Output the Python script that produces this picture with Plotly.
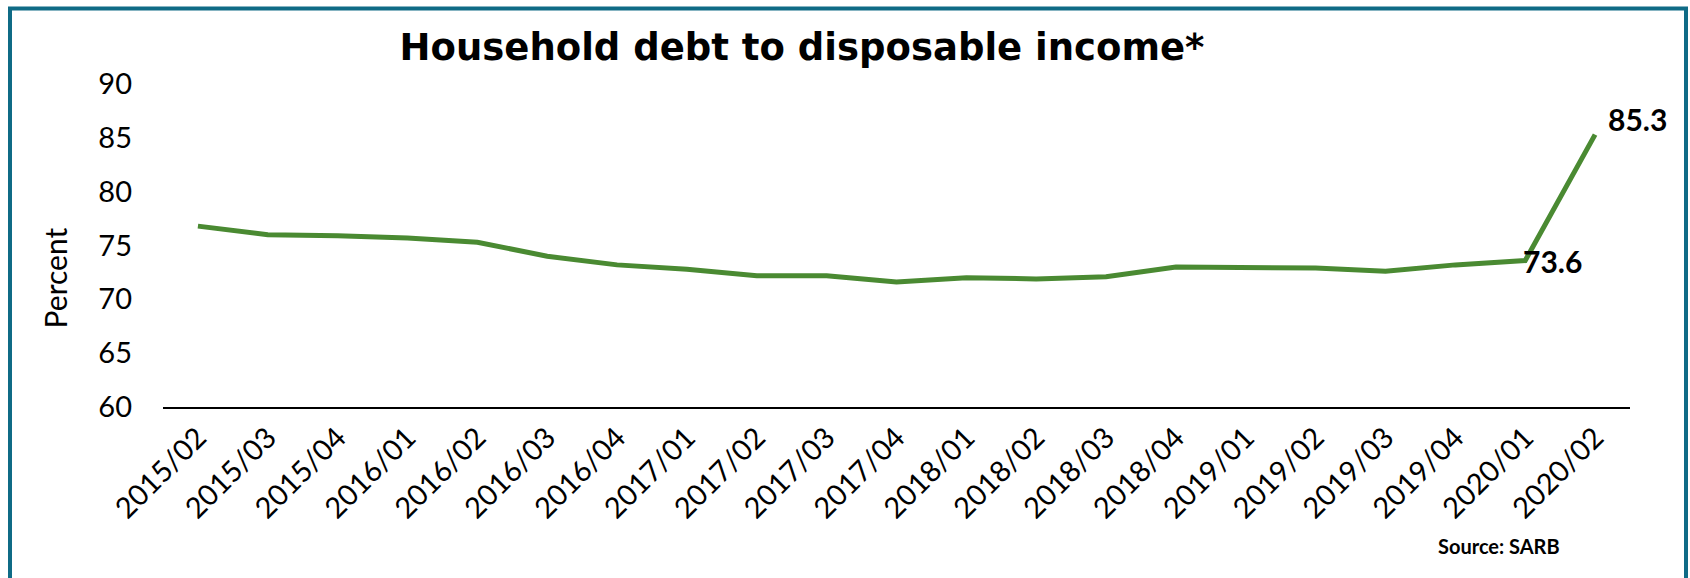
import plotly.graph_objects as go

# Quarterly series, household debt as % of disposable income
quarters = [
    "2015/02", "2015/03", "2015/04", "2016/01", "2016/02", "2016/03", "2016/04",
    "2017/01", "2017/02", "2017/03", "2017/04", "2018/01", "2018/02", "2018/03",
    "2018/04", "2019/01", "2019/02", "2019/03", "2019/04", "2020/01", "2020/02",
]
debt_ratio = [
    76.8, 76.0, 75.9, 75.7, 75.3, 74.0, 73.2,
    72.8, 72.2, 72.2, 71.6, 72.0, 71.9, 72.1,
    73.0, 73.0, 72.9, 72.6, 73.2, 73.6, 85.3,
]
y_ticks = [60, 65, 70, 75, 80, 85, 90]

W, H = 1690, 578
ML, MR, MT, MB = 163, 60, 83.5, 171.3
PW, PH = W - ML - MR, H - MT - MB


def px_x(x):
    return (x - ML) / PW


def px_y(y):
    return (H - MB - y) / PH


GREEN = "#4a8a32"
TEAL = "#0f6b86"
FONT = "Lato"

fig = go.Figure()
fig.add_trace(go.Scatter(
    x=quarters, y=debt_ratio, mode="lines",
    line=dict(color=GREEN, width=5),
    hoverinfo="x+y", showlegend=False,
))

annotations = [
    # value labels on the last two quarters
    dict(x=quarters[-2], y=debt_ratio[-2], xref="x", yref="y",
         text=f"<b>{debt_ratio[-2]:.1f}</b>", showarrow=False,
         xanchor="left", yanchor="middle", xshift=-4, yshift=0,
         font=dict(family=FONT, size=30, color="black")),
    dict(x=quarters[-1], y=debt_ratio[-1], xref="x", yref="y",
         text=f"<b>{debt_ratio[-1]:.1f}</b>", showarrow=False,
         xanchor="left", yanchor="middle", xshift=11, yshift=16,
         font=dict(family=FONT, size=30, color="black")),
    # rotated axis title
    dict(x=px_x(55), y=px_y(277), xref="paper", yref="paper",
         text="Percent", textangle=-90, showarrow=False,
         xanchor="center", yanchor="middle",
         font=dict(family=FONT, size=30, color="black")),
    # source note
    dict(x=px_x(1499), y=px_y(546), xref="paper", yref="paper",
         text="<b>Source: SARB</b>", showarrow=False,
         xanchor="center", yanchor="middle",
         font=dict(family=FONT, size=20, color="black")),
]

shapes = [
    dict(type="rect", xref="paper", yref="paper",
         x0=px_x(10), x1=px_x(1686), y0=px_y(600), y1=px_y(8),
         line=dict(color=TEAL, width=4), fillcolor="rgba(0,0,0,0)",
         layer="above"),
]

fig.update_layout(
    width=W, height=H,
    margin=dict(l=ML, r=MR, t=MT, b=MB, pad=0),
    paper_bgcolor="white", plot_bgcolor="white",
    title=dict(text="<b>Household debt to disposable income*</b>",
               xref="container", yref="container",
               x=802 / W, y=1 - 47 / H, xanchor="center", yanchor="middle",
               font=dict(family="DejaVu Sans", size=37, color="black")),
    xaxis=dict(
        type="category", range=[-0.5, len(quarters) - 0.5],
        showgrid=False, zeroline=False,
        showline=True, linecolor="black", linewidth=2,
        ticks="", tickangle=-45,
        tickfont=dict(family=FONT, size=29, color="black"),
    ),
    yaxis=dict(
        range=[60, 90], tickvals=y_ticks,
        showgrid=False, zeroline=False, showline=False,
        ticks="", ticklabelstandoff=30,
        tickfont=dict(family=FONT, size=29, color="black"),
    ),
    annotations=annotations,
    shapes=shapes,
)

fig.write_html("out.html")
